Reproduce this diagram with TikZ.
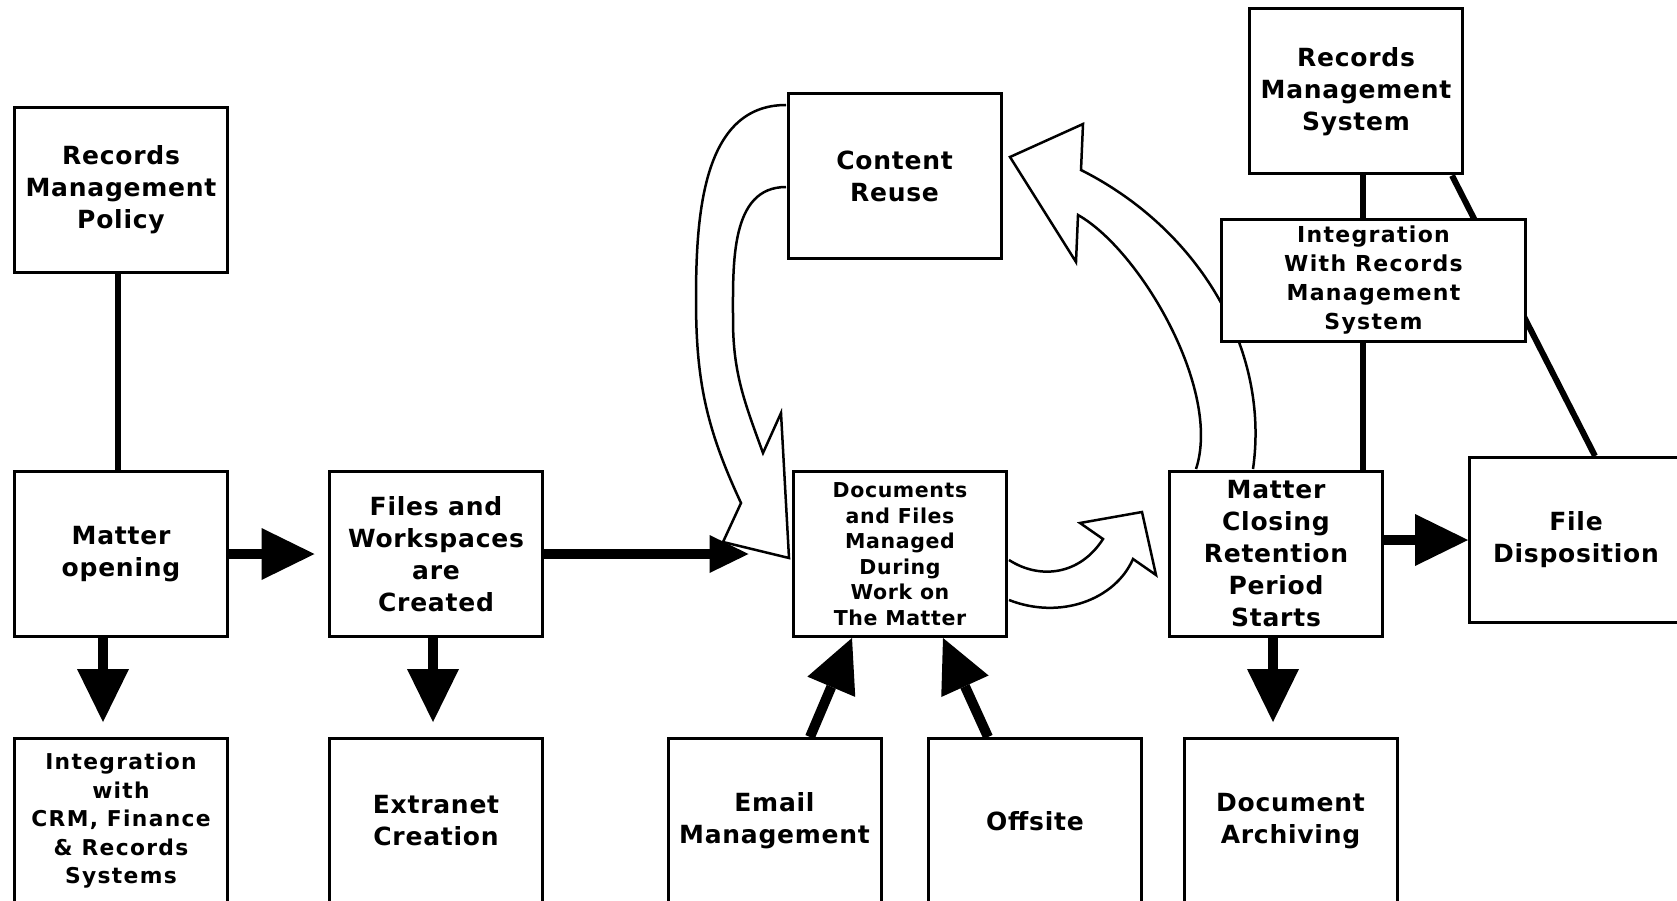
\documentclass[tikz,border=0pt]{standalone}
\usepackage{fontspec}
\newfontfamily\diagfont{DejaVu Sans}[LetterSpace=3]
\newfontfamily\diagwide{DejaVu Sans}[LetterSpace=6]
\usetikzlibrary{arrows.meta}

\begin{document}
\begin{tikzpicture}[x=1pt,y=-1pt]
\tikzstyle{boxi}=[rectangle,draw,line width=3pt,fill=white,inner sep=0pt,minimum width=213pt,minimum height=165pt,align=center,font=\diagfont\bfseries\fontsize{25}{32}\selectfont]
\tikzstyle{linki}=[line width=6pt]
\tikzstyle{arrowi}=[line width=10pt,-{Triangle[length=53pt,width=52pt,line width=0pt]}]
\tikzstyle{arrowii}=[line width=10pt,-{Triangle[length=39pt,width=38pt,line width=0pt]}]
\tikzstyle{hollowi}=[draw,line width=2.5pt,line join=miter]
\clip (0,0) rectangle (1677,901);
% hollow arrows
\draw[hollowi] (786,105) to[out=180,in=90] (696,300) to[out=-90,in=115] (741,503)
  -- (723,542) -- (789,558) -- (781,413) -- (763,453)
  to[out=110,in=-90] (733,320) to[out=90,in=180] (786,187);
\draw[hollowi] (1253,469) .. controls (1270,350) and (1200,230) .. (1081,170)
  -- (1083,124) -- (1010,157) -- (1076,262) -- (1078,215)
  .. controls (1140,250) and (1222,390) .. (1196,469);
\draw[hollowi] (1009,560) .. controls (1040,580) and (1080,575) .. (1103,539)
  -- (1080,523) -- (1142,512) -- (1156,575) -- (1133,559)
  .. controls (1115,600) and (1060,620) .. (1009,600);
% boxes
\node [boxi] (rmp) at (121,190) {Records\\Management\\Policy};
\node [boxi] (mo) at (121,554) {Matter\\opening};
\node [boxi] (fw) at (436,554) {Files and\\Workspaces\\are\\Created};
\node [boxi,font=\diagwide\bfseries\fontsize{21.8}{28.5}\selectfont] (crm) at (121,821) {Integration\\with\\CRM, Finance\\\& Records\\Systems};
\node [boxi] (ex) at (436,821) {Extranet\\Creation};
\node [boxi] (cr) at (894.5,176) {Content\\Reuse};
\node [boxi,font=\diagfont\bfseries\fontsize{20.5}{25.5}\selectfont] (df) at (900,554) {Documents\\and Files\\Managed\\During\\Work on\\The Matter};
\node [boxi] (em) at (774.5,821) {Email\\Management};
\node [boxi] (of) at (1035,821) {Offsite};
\node [boxi] (da) at (1290.5,821) {Document\\Archiving};
\node [boxi] (mc) at (1276,554) {Matter\\Closing\\Retention\\Period\\Starts};
\node [boxi] (fd) at (1576,540) {File\\Disposition};
\node [boxi] (rms) at (1356,91.5) {Records\\Management\\System};
% connectors
\draw[linki] ([xshift=-3pt]rmp.south) -- ([xshift=-3pt]mo.north);
\draw[linki] ([xshift=7pt]rms.south) -- ([xshift=7pt]rms.south |- mc.north);
\draw[linki] ([xshift=96pt]rms.south) -- ([xshift=19pt]fd.north);
\draw[arrowi,shorten >=13.5pt] (mo.east) -- (fw.west);
\draw[arrowi,shorten >=15pt] ([xshift=-18pt]mo.south) -- ([xshift=-18pt]mo.south |- crm.north);
\draw[arrowi,shorten >=15pt] ([xshift=-3pt]fw.south) -- ([xshift=-3pt]fw.south |- ex.north);
\draw[arrowii,shorten >=43.5pt] (fw.east) -- (df.west);
\draw[arrowi] ([xshift=35.5pt]em.north) -- ([xshift=-48pt]df.south);
\draw[arrowi] ([xshift=-47pt]of.north) -- ([xshift=43pt]df.south);
\draw[arrowi] (mc.east |- fd.west) -- (fd.west);
\draw[arrowi,shorten >=15pt] ([xshift=-3pt]mc.south) -- ([xshift=-3pt]mc.south |- da.north);
% box in front of the links
\node [boxi,minimum width=304pt,minimum height=122pt,font=\diagwide\bfseries\fontsize{22}{29}\selectfont] (irms) at (1373.5,280.5) {Integration\\With Records\\Management\\System};
\end{tikzpicture}
\end{document}
